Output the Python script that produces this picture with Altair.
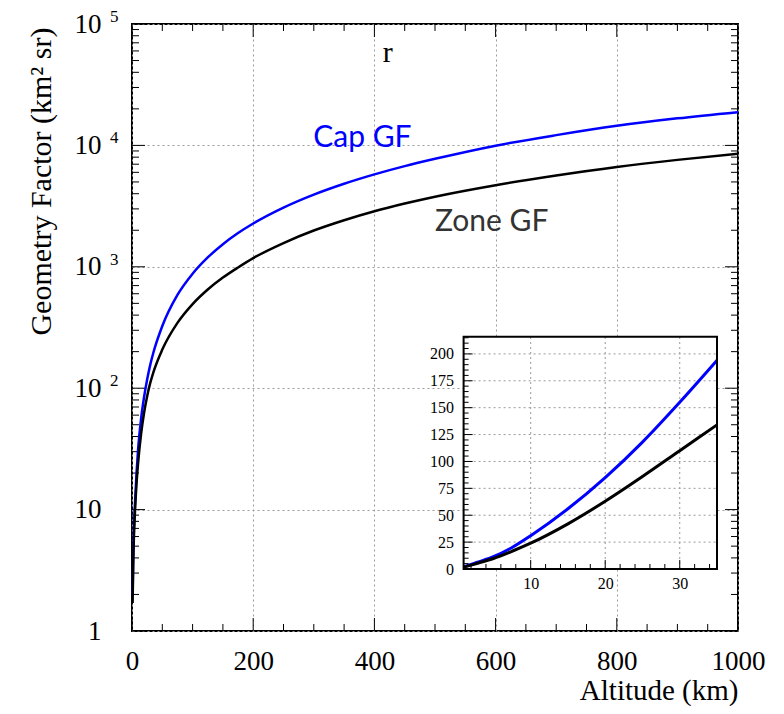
import altair as alt
import pandas as pd

# ---------------- data ----------------
altitude = [1, 2, 3, 5, 7.5, 10, 15, 20, 25, 30, 35, 50, 75, 100, 125, 150, 175,
            200, 250, 300, 350, 400, 450, 500, 600, 700, 800, 900, 1000]
cap_gf = [1.95, 4.2, 6.6, 11.5, 20, 31, 56, 85, 118, 155, 194, 325, 586, 877, 1194,
          1535, 1896, 2273, 3073, 3930, 4830, 5770, 6750, 7750, 9950, 12150, 14500,
          16700, 18800]
zone_gf = [1.7, 3.6, 5.6, 9.8, 16.5, 24, 42, 63, 86, 110, 134, 208, 345, 493, 650,
           815, 988, 1180, 1570, 1990, 2420, 2870, 3320, 3780, 4700, 5650, 6640,
           7600, 8550]
series_names = ["Cap GF", "Zone GF"]

x_major = [0, 200, 400, 600, 800, 1000]
x_minor = [v for v in range(0, 1001, 50) if v % 200 != 0]
y_major = [1, 10, 100, 1000, 10000, 100000]
y_minor = [m * 10 ** k for k in range(0, 5) for m in range(2, 10)]
y_exp_vals = [100, 1000, 10000, 100000]
y_exp_text = ["2", "3", "4", "5"]

inset_x_domain = [1, 35]
inset_y_domain = [0, 216]
inset_x_major = [10, 20, 30]
inset_x_minor = [v for v in range(2, 35, 2) if v % 10 != 0]
inset_y_major = [0, 25, 50, 75, 100, 125, 150, 175, 200]
inset_y_minor = [v for v in range(5, 216, 5) if v % 25 != 0]

annotations = pd.DataFrame({
    "x": [299, 500, 422],
    "y": [9750, 1955, 49000],
    "label": ["Cap GF", "Zone GF", "r"],
})

# ---------------- layout / style constants ----------------
W, H = 606, 607
IX0, IX1 = 331.6, 585.0          # inset pixel extent (x)
IY0, IY1 = 545.0, 312.7          # inset pixel extent (y, bottom -> top)
SERIF = "Liberation Serif"
SANS = "Lato"
BLUE = "#0000ff"
GRID = "#9a9a9a"

n = len(altitude)
df = pd.DataFrame({
    "alt": altitude * 2,
    "gf": cap_gf + zone_gf,
    "series": [series_names[0]] * n + [series_names[1]] * n,
})
df_in = df[df["alt"] <= inset_x_domain[1]]

xs = alt.Scale(domain=[0, 1000], nice=False, zero=False)
ys = alt.Scale(type="log", domain=[1, 100000], nice=False)
ixs = alt.Scale(domain=inset_x_domain, range=[IX0, IX1], nice=False, zero=False)
iys = alt.Scale(domain=inset_y_domain, range=[IY0, IY1], nice=False, zero=False)
color = alt.Color("series:N", scale=alt.Scale(domain=series_names, range=[BLUE, "black"]),
                  legend=None)

# ---------------- main panel ----------------
main_lines = alt.Chart(df).mark_line(strokeWidth=2.5, interpolate="monotone").encode(
    x=alt.X("alt:Q", scale=xs, axis=alt.Axis(
        orient="bottom", values=x_major, title="Altitude (km)", grid=True,
        gridDash=[2, 3], gridColor=GRID, ticks=False, tickSize=0, domain=False,
        labelFont=SERIF, labelFontSize=27, labelColor="black", labelPadding=17,
        labelFlush=False, labelOverlap=False, format="d", titleFont=SERIF,
        titleFontSize=29, titleFontWeight="normal", titleColor="black",
        titleAlign="right", titleBaseline="middle", titleX=W, titleY=59)),
    y=alt.Y("gf:Q", scale=ys, axis=alt.Axis(
        orient="left", values=y_major, title="Geometry Factor (km\u00b2 sr)", grid=True,
        gridDash=[2, 3], gridColor=GRID, ticks=False, tickSize=0, domain=False,
        labelFont=SERIF, labelFontSize=27, labelColor="black", labelPadding=31,
        labelOverlap=False, labelExpr="datum.value == 1 ? '1' : '10'",
        titleFont=SERIF, titleFontSize=30, titleFontWeight="normal",
        titleColor="black", titleAngle=-90, titleAlign="right",
        titleBaseline="middle", titleX=-91, titleY=3)),
    color=color,
    detail="series:N",
)


def vticks(vals, scale, y0, y1, sw=1):
    return alt.Chart(pd.DataFrame({"v": vals})).mark_rule(color="black", strokeWidth=sw).encode(
        x=alt.X("v:Q", scale=scale, axis=None), y=alt.value(y0), y2=alt.value(y1))


def hticks(vals, scale, x0, x1, sw=1):
    return alt.Chart(pd.DataFrame({"v": vals})).mark_rule(color="black", strokeWidth=sw).encode(
        y=alt.Y("v:Q", scale=scale, axis=None), x=alt.value(x0), x2=alt.value(x1))


main_ticks = [
    vticks(x_major, xs, H, H - 13), vticks(x_minor, xs, H, H - 7),
    vticks(x_major, xs, 0, 13), vticks(x_minor, xs, 0, 7),
    hticks(y_major, ys, 0, 13), hticks(y_minor, ys, 0, 7),
    hticks(y_major, ys, W, W - 13), hticks(y_minor, ys, W, W - 7),
]

exponents = alt.Chart(pd.DataFrame({"v": y_exp_vals, "e": y_exp_text})).mark_text(
    font=SERIF, fontSize=17, align="left", baseline="middle", dy=-7, color="black"
).encode(y=alt.Y("v:Q", scale=ys, axis=None), x=alt.value(-22), text="e:N")


def label(i, font, align, col):
    return alt.Chart(annotations.iloc[[i]]).mark_text(
        font=font, fontSize=30, align=align, baseline="alphabetic", color=col
    ).encode(x=alt.X("x:Q", scale=xs, axis=None), y=alt.Y("y:Q", scale=ys, axis=None),
             text="label:N")


labels = [label(0, SANS, "left", BLUE), label(1, SANS, "left", "#333333"),
          label(2, SERIF, "center", "black")]

# ---------------- inset panel ----------------
frame_df = pd.DataFrame({"x0": [inset_x_domain[0]], "x1": [inset_x_domain[1]],
                         "y0": [inset_y_domain[0]], "y1": [inset_y_domain[1]]})
inset_bg = alt.Chart(frame_df).mark_rect(fill="white").encode(
    x=alt.X("x0:Q", scale=ixs, axis=None), x2="x1:Q",
    y=alt.Y("y0:Q", scale=iys, axis=None), y2="y1:Q")
inset_frame = alt.Chart(frame_df).mark_rect(filled=False, stroke="black", strokeWidth=2).encode(
    x=alt.X("x0:Q", scale=ixs, axis=None), x2="x1:Q",
    y=alt.Y("y0:Q", scale=iys, axis=None), y2="y1:Q")

igrid_v = alt.Chart(pd.DataFrame({"v": inset_x_major})).mark_rule(
    color=GRID, strokeDash=[2, 3], strokeWidth=1).encode(
    x=alt.X("v:Q", scale=ixs, axis=None), y=alt.value(IY0), y2=alt.value(IY1))
igrid_h = alt.Chart(pd.DataFrame({"v": inset_y_major[1:]})).mark_rule(
    color=GRID, strokeDash=[2, 3], strokeWidth=1).encode(
    y=alt.Y("v:Q", scale=iys, axis=None), x=alt.value(IX0), x2=alt.value(IX1))

inset_ticks = [
    vticks(inset_x_major, ixs, IY0, IY0 - 9), vticks(inset_x_minor, ixs, IY0, IY0 - 5),
    hticks(inset_y_major, iys, IX0, IX0 + 9), hticks(inset_y_minor, iys, IX0, IX0 + 5),
]

inset_lines = alt.Chart(df_in).mark_line(strokeWidth=3, interpolate="monotone").encode(
    x=alt.X("alt:Q", scale=ixs, axis=alt.Axis(
        orient="bottom", offset=-(H - IY0), values=inset_x_major, title=None, grid=False,
        ticks=False, tickSize=0, domain=False, labelFont=SERIF, labelFontSize=16,
        labelColor="black", labelPadding=6, labelFlush=False, labelOverlap=False)),
    y=alt.Y("gf:Q", scale=iys, axis=alt.Axis(
        orient="left", offset=-IX0, values=inset_y_major, title=None, grid=False,
        ticks=False, tickSize=0, domain=False, labelFont=SERIF, labelFontSize=16,
        labelColor="black", labelPadding=10, labelFlush=False, labelOverlap=False)),
    color=color,
    detail="series:N",
)

layers = (main_ticks + [main_lines, exponents] + labels +
          [inset_bg, igrid_v, igrid_h] + inset_ticks + [inset_lines, inset_frame])

chart = alt.layer(*layers).resolve_scale(
    x="independent", y="independent", color="shared"
).properties(
    width=W, height=H,
    autosize=alt.AutoSizeParams(type="none"),
    padding={"left": 124, "top": 16, "right": 30, "bottom": 75},
    background="white",
).configure_view(stroke="black", strokeWidth=2)

chart.save("out.html", embed_options={"renderer": "svg", "actions": False})
